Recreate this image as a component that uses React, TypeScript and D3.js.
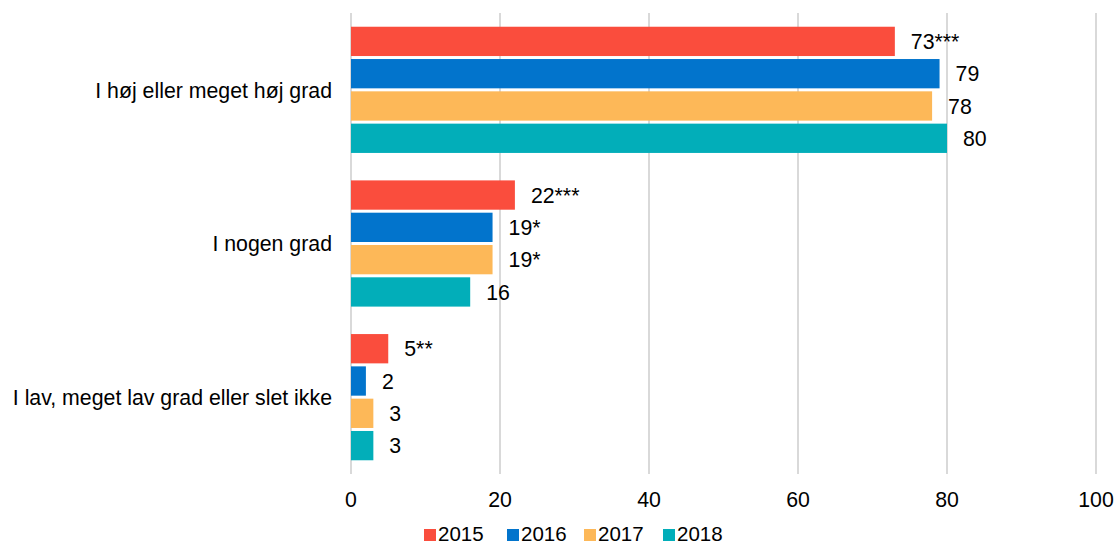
import React, { useEffect, useRef } from 'react';
import * as d3 from 'd3';

const categories = [
  'I høj eller meget høj grad',
  'I nogen grad',
  'I lav, meget lav grad eller slet ikke',
];
const years = ['2015', '2016', '2017', '2018'];
const colors = ['#FA4D3D', '#0274CC', '#FDB858', '#02AEB9'];

// values per year, in category order
const values2015 = [73, 22, 5];
const values2016 = [79, 19, 2];
const values2017 = [78, 19, 3];
const values2018 = [80, 16, 3];

// significance marks shown after the value
const marks2015 = ['***', '***', '**'];
const marks2016 = ['', '*', ''];
const marks2017 = ['', '*', ''];
const marks2018 = ['', '', ''];

const xTicks = [0, 20, 40, 60, 80, 100];

const App: React.FC = () => {
  const svgRef = useRef<SVGSVGElement>(null);

  useEffect(() => {
    if (!svgRef.current) return;
    const width = 1117;
    const height = 546;
    const svg = d3.select(svgRef.current);
    svg.selectAll('*').remove();

    const font = 'Liberation Sans, Arial, sans-serif';
    const fontSize = 21.3;

    const x = d3.scaleLinear().domain([0, 100]).range([351, 1096]);
    const y0 = d3.scaleBand<string>().domain(categories).range([13, 474]);
    const y1 = d3.scaleBand<string>().domain(years).range([0, y0.bandwidth()]).paddingInner(0.093).paddingOuter(0.425);

    const series = [values2015, values2016, values2017, values2018];
    const marks = [marks2015, marks2016, marks2017, marks2018];

    // gridlines
    svg.append('g')
      .selectAll('line')
      .data(xTicks)
      .join('line')
      .attr('x1', d => x(d))
      .attr('x2', d => x(d))
      .attr('y1', 13)
      .attr('y2', 474)
      .attr('stroke', '#d9d9d9')
      .attr('stroke-width', 2);

    const rows = categories.flatMap((c, ci) =>
      years.map((yr, yi) => ({ c, yr, yi, v: series[yi][ci], m: marks[yi][ci] }))
    );

    const g = svg.append('g');
    g.selectAll('rect')
      .data(rows)
      .join('rect')
      .attr('x', x(0))
      .attr('y', d => (y0(d.c) ?? 0) + (y1(d.yr) ?? 0))
      .attr('width', d => x(d.v) - x(0))
      .attr('height', y1.bandwidth())
      .attr('fill', d => colors[d.yi]);

    g.selectAll('text')
      .data(rows)
      .join('text')
      .attr('x', d => x(d.v) + 16)
      .attr('y', d => (y0(d.c) ?? 0) + (y1(d.yr) ?? 0) + y1.bandwidth() / 2)
      .attr('dy', '0.36em')
      .attr('font-family', font)
      .attr('font-size', fontSize)
      .attr('fill', '#000')
      .text(d => `${d.v}${d.m}`);

    // category labels
    svg.append('g')
      .selectAll('text')
      .data(categories)
      .join('text')
      .attr('x', 332)
      .attr('y', d => (y0(d) ?? 0) + y0.bandwidth() / 2)
      .attr('dy', '0.36em')
      .attr('text-anchor', 'end')
      .attr('font-family', font)
      .attr('font-size', fontSize)
      .attr('fill', '#000')
      .text(d => d);

    // x tick labels
    svg.append('g')
      .selectAll('text')
      .data(xTicks)
      .join('text')
      .attr('x', d => x(d))
      .attr('y', 507)
      .attr('text-anchor', 'middle')
      .attr('font-family', font)
      .attr('font-size', fontSize)
      .attr('fill', '#000')
      .text(d => d);

    // legend
    const legendX = [424, 507, 584, 663];
    const lg = svg.append('g')
      .selectAll('g')
      .data(years)
      .join('g')
      .attr('transform', (d, i) => `translate(${legendX[i]},535)`);
    lg.append('rect')
      .attr('x', 0)
      .attr('y', -6)
      .attr('width', 12)
      .attr('height', 12)
      .attr('fill', (d, i) => colors[i]);
    lg.append('text')
      .attr('x', 14)
      .attr('y', 6)
      .attr('font-family', font)
      .attr('font-size', 20.5)
      .attr('fill', '#000')
      .text(d => d);

    svg.attr('width', width).attr('height', height);
  }, []);

  return (
    <svg
      ref={svgRef}
      width={1117}
      height={546}
      style={{ position: 'absolute', left: 0, top: 0, background: '#fff' }}
    />
  );
};

export default App;
